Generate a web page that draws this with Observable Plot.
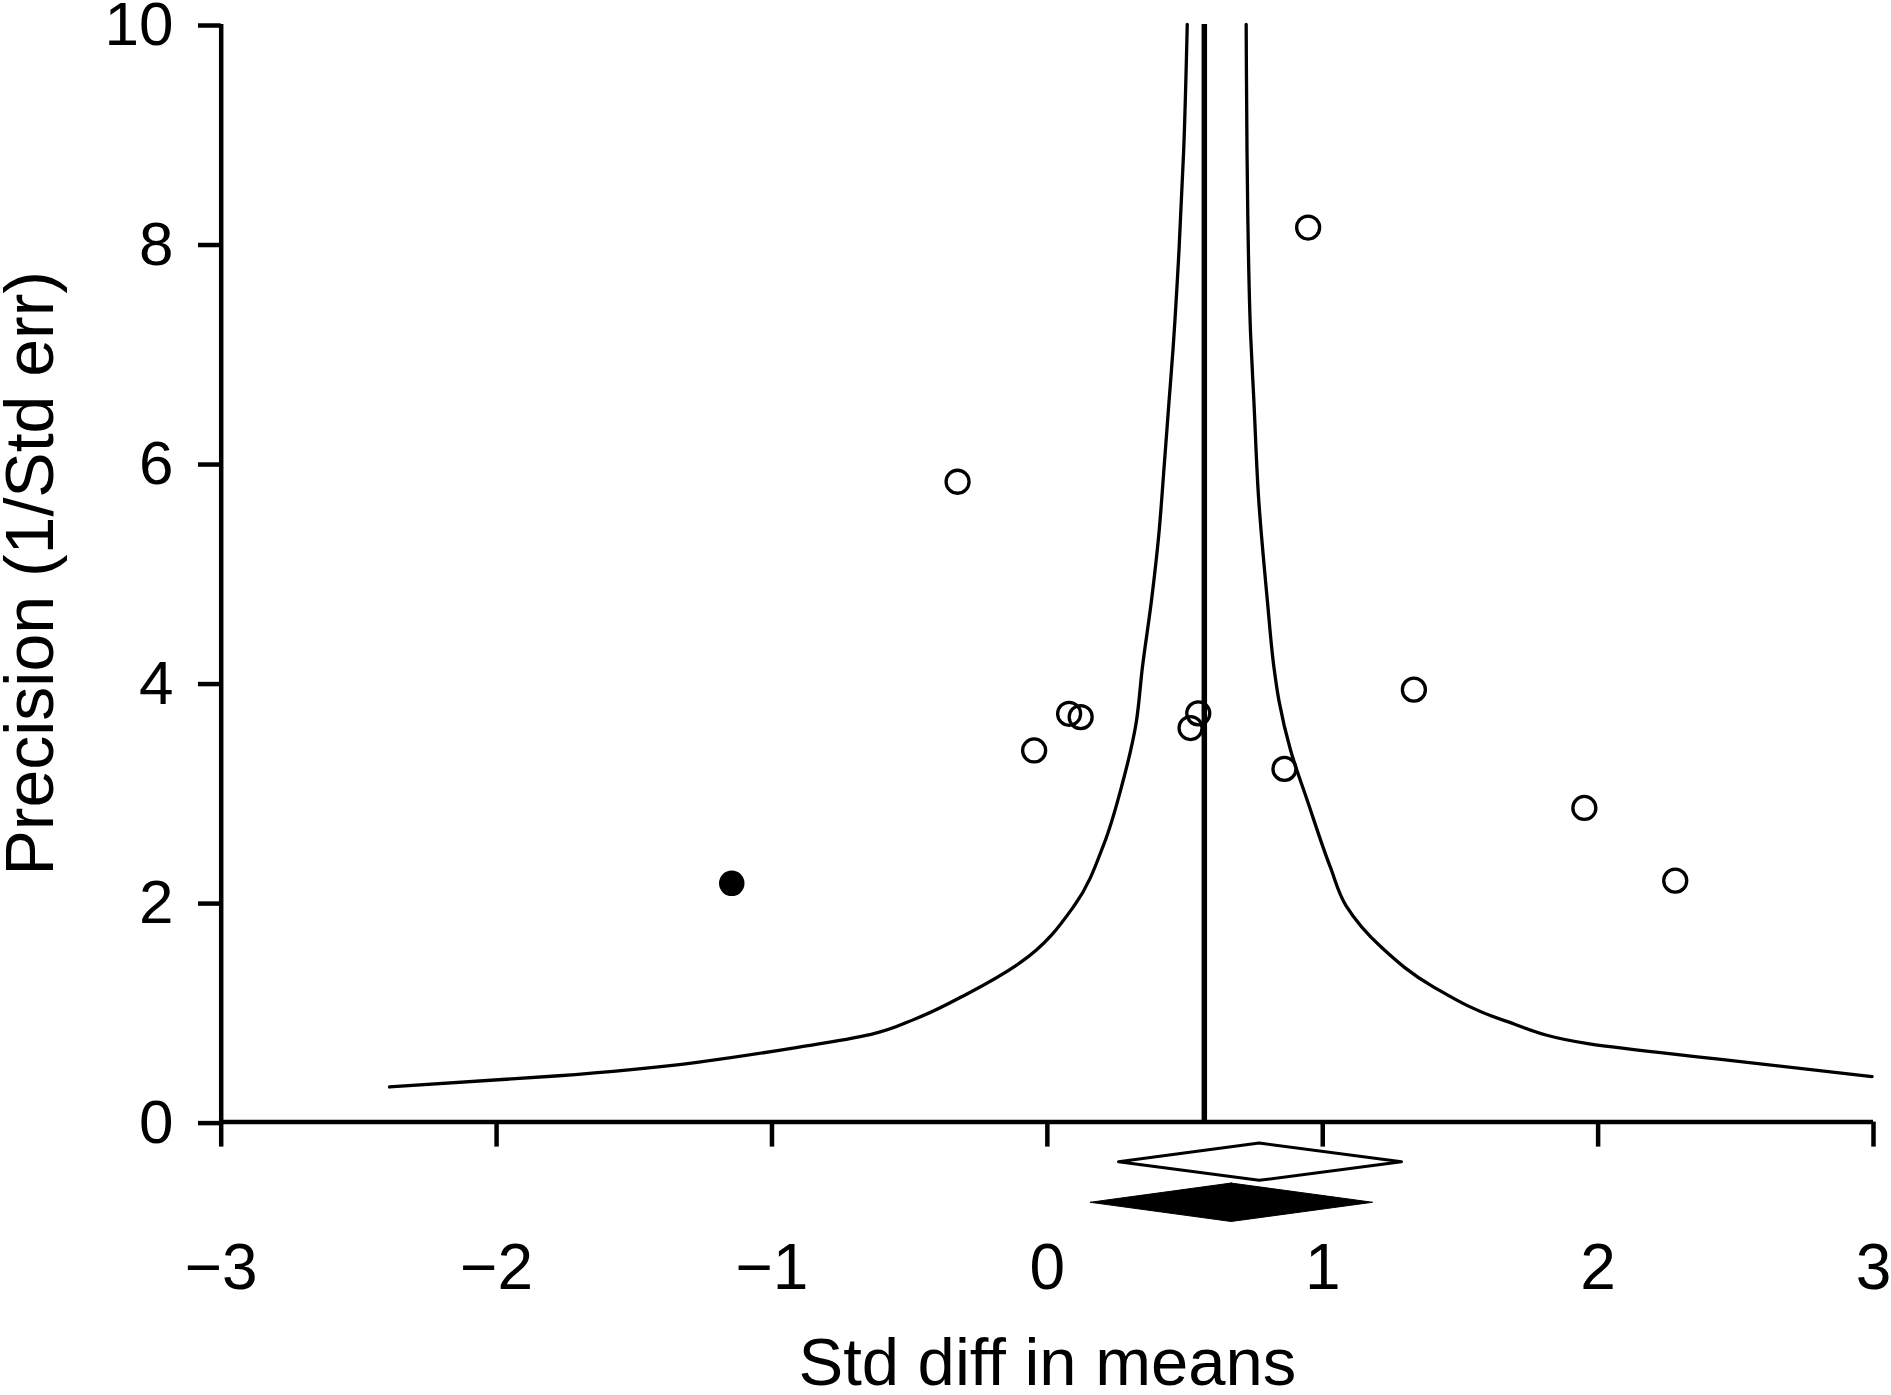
<!DOCTYPE html>
<html><head><meta charset="utf-8">
<script src="https://cdn.jsdelivr.net/npm/d3@7"></script>
<script src="https://cdn.jsdelivr.net/npm/@observablehq/plot@0.6"></script>
<style>html,body{margin:0;padding:0;background:#fff;} #chart svg{display:block;}</style>
</head><body><div id="chart"></div>
<script>
// ---- data ----
const xTicks = [-3, -2, -1, 0, 1, 2, 3];
const yTicks = [0, 2, 4, 6, 8, 10];
const xTitle = "Std diff in means";
const yTitle = "Precision (1/Std err)";

// observed studies (open circles)
const studyEffect    = [0.947, -0.326, 0.079, 0.121, -0.048, 0.548, 0.520, 0.861, 1.331, 1.950, 2.280];
const studyPrecision = [8.15, 5.834, 3.72, 3.69, 3.386, 3.724, 3.59, 3.218, 3.94, 2.862, 2.200];
// imputed study (filled circle)
const imputedEffect    = [-1.146];
const imputedPrecision = [2.175];

// combined effect line
const combinedEffect = [0.57];

// funnel limits (ascending precision)
const funnelLeftY  = [0.32, 0.42, 0.70, 0.80, 0.94, 1.17, 1.45, 1.98, 2.53, 3.08, 3.63, 4.14, 4.75, 5.36, 5.97, 6.57, 7.03, 7.94, 8.85, 10];
const funnelLeftX  = [-2.389, -1.787, -0.861, -0.64, -0.48, -0.29, -0.10, 0.10, 0.205, 0.272, 0.322, 0.345, 0.378, 0.405, 0.424, 0.442, 0.456, 0.478, 0.495, 0.508];
const funnelRightY = [0.415, 0.576, 0.713, 0.925, 1.23, 1.59, 1.97, 2.32, 2.93, 3.39, 3.84, 4.14, 4.75, 5.69, 6.57, 7.18, 8.24, 8.85, 10];
const funnelRightX = [2.995, 2.43, 1.968, 1.66, 1.403, 1.214, 1.085, 1.028, 0.944, 0.883, 0.841, 0.823, 0.799, 0.767, 0.750, 0.738, 0.728, 0.725, 0.722];

// summary diamonds: [lower, point, upper]
const observedSummary = [0.26, 0.771, 1.288];
const adjustedSummary = [0.157, 0.669, 1.183];

// ---- build tables ----
const studies = studyEffect.map((x, i) => ({x, y: studyPrecision[i]}));
const imputed = imputedEffect.map((x, i) => ({x, y: imputedPrecision[i]}));
const leftLimit = funnelLeftY.map((y, i) => ({x: funnelLeftX[i], y}));
const rightLimit = funnelRightY.map((y, i) => ({x: funnelRightX[i], y}));

// diamond placement (layout, in y-units below the axis)
function diamond(ci, yMid, halfH) {
  const [lo, pt, hi] = ci;
  return [
    {y: yMid + halfH, x1: pt, x2: pt},
    {y: yMid, x1: lo, x2: hi},
    {y: yMid - halfH, x1: pt, x2: pt}
  ];
}
const obsDiamond = diamond(observedSummary, -0.365, 0.17);
const adjDiamond = diamond(adjustedSummary, -0.735, 0.175);

const fmt = d => d < 0 ? "\u2212" + Math.abs(d) : String(d);

const W = 1891, H = 1395;
const chart = Plot.plot({
  width: W, height: H,
  marginLeft: 220.7, marginRight: 18, marginTop: 24, marginBottom: 273.4,
  x: {domain: [-3, 3]},
  y: {domain: [0, 10]},
  style: {fontFamily: "'Liberation Sans', Arial, Helvetica, sans-serif", color: "black", background: "white"},
  marks: [
    Plot.axisY(yTicks, {tickSize: 22.7, tickPadding: 25, fontSize: 62, dy: 1, strokeWidth: 4.5, tickFormat: fmt, label: null}),
    Plot.axisX(xTicks, {tickSize: 25, tickPadding: 96, fontSize: 64, strokeWidth: 4.5, tickFormat: fmt, label: null}),
    Plot.ruleX([-3], {y1: 0, y2: 10, strokeWidth: 4.5}),
    Plot.ruleY([0], {x1: -3, x2: 3, strokeWidth: 4.5}),
    Plot.line(leftLimit, {x: "x", y: "y", curve: "monotone-y", stroke: "black", strokeWidth: 3.3}),
    Plot.line(rightLimit, {x: "x", y: "y", curve: "monotone-y", stroke: "black", strokeWidth: 3.3}),
    Plot.ruleX(combinedEffect, {y1: 0, y2: 10, strokeWidth: 5.5}),
    Plot.dot(studies, {x: "x", y: "y", r: 11.5, stroke: "black", strokeWidth: 3.3, fill: "none"}),
    Plot.dot(imputed, {x: "x", y: "y", r: 12, fill: "black", stroke: "black"}),
    Plot.areaX(obsDiamond, {y: "y", x1: "x1", x2: "x2", fill: "white", stroke: "black", strokeWidth: 3, curve: "linear"}),
    Plot.areaX(adjDiamond, {y: "y", x1: "x1", x2: "x2", fill: "black", stroke: "black", strokeWidth: 1, curve: "linear"}),
    Plot.text([xTitle], {frameAnchor: "bottom", dy: 263, fontSize: 67, text: d => d, fill: "black"}),
    Plot.text([yTitle], {frameAnchor: "left", textAnchor: "middle", dx: -190, rotate: -90, fontSize: 68, text: d => d, fill: "black"})
  ]
});
document.getElementById("chart").appendChild(chart);
</script>
</body></html>
